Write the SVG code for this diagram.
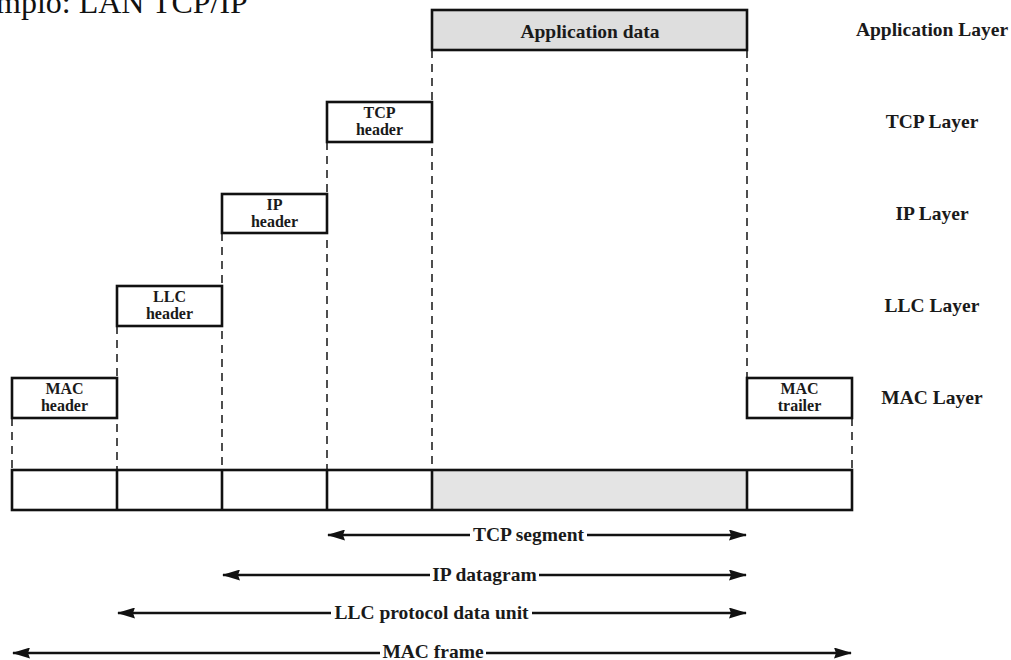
<svg xmlns="http://www.w3.org/2000/svg" width="1011" height="660" viewBox="0 0 1011 660">
<style>
.box{fill:#fff;stroke:#111;stroke-width:2.6}
.gray{fill:#dedede}
.dash{stroke:#222;stroke-width:1.6;stroke-dasharray:8,6;fill:none}
.lbl{font-family:"Liberation Serif","Times New Roman",serif;font-weight:bold;fill:#1a1a1a;text-anchor:middle}
.hdr{font-size:16px}
.big{font-size:19.5px}
.arr{stroke:#111;stroke-width:2.5;fill:none}
.head{fill:#111}
</style>
<defs>
<marker id="ah" viewBox="0 0 18 11" refX="17" refY="5.5" markerWidth="18" markerHeight="11" markerUnits="userSpaceOnUse" orient="auto-start-reverse">
<path d="M0,0 L18,5.5 L0,11 L2,5.5 Z" class="head"/>
</marker>
</defs>
<rect width="1011" height="660" fill="#fff"/>
<text x="-4" y="13" font-family="Liberation Serif,'Times New Roman',serif" font-size="32" fill="#111">mplo: LAN TCP/IP</text>

<g id="connectors">
<path class="dash" d="M432,50 V470 M747,50 V378 M327,142 V470 M222,233 V470 M117,326 V470 M12,418 V470 M852,418 V470"/>
<path class="arr" d="M328,535 H470" marker-start="url(#ah)"/>
<path class="arr" d="M587,535 H746" marker-end="url(#ah)"/>
<path class="arr" d="M223,575 H430" marker-start="url(#ah)"/>
<path class="arr" d="M539,575 H746" marker-end="url(#ah)"/>
<path class="arr" d="M118,613 H331" marker-start="url(#ah)"/>
<path class="arr" d="M532,613 H746" marker-end="url(#ah)"/>
<path class="arr" d="M13,653 H380" marker-start="url(#ah)"/>
<path class="arr" d="M486,653 H851" marker-end="url(#ah)"/>
</g>

<g id="app-data">
<rect class="box gray" x="432" y="10" width="315" height="40"/>
<text class="lbl big" x="590" y="38">Application data</text>
</g>
<g id="tcp-header">
<rect class="box" x="327" y="102" width="105" height="40"/>
<text class="lbl hdr" x="379.5" y="117.5">TCP</text>
<text class="lbl hdr" x="379.5" y="134.5">header</text>
</g>
<g id="ip-header">
<rect class="box" x="222" y="194" width="105" height="39"/>
<text class="lbl hdr" x="274.5" y="209.5">IP</text>
<text class="lbl hdr" x="274.5" y="226.5">header</text>
</g>
<g id="llc-header">
<rect class="box" x="117" y="286" width="105" height="40"/>
<text class="lbl hdr" x="169.5" y="301.5">LLC</text>
<text class="lbl hdr" x="169.5" y="318.5">header</text>
</g>
<g id="mac-header">
<rect class="box" x="12" y="378" width="105" height="40"/>
<text class="lbl hdr" x="64.5" y="393.5">MAC</text>
<text class="lbl hdr" x="64.5" y="410.5">header</text>
</g>
<g id="mac-trailer">
<rect class="box" x="747" y="378" width="105" height="40"/>
<text class="lbl hdr" x="799.5" y="393.5">MAC</text>
<text class="lbl hdr" x="799.5" y="410.5">trailer</text>
</g>

<g id="frame">
<rect x="432" y="470" width="315" height="40" fill="#e4e4e4"/>
<rect x="12" y="470" width="840" height="40" fill="none" stroke="#111" stroke-width="2.6"/>
<path d="M117,470 V510 M222,470 V510 M327,470 V510 M432,470 V510 M747,470 V510" stroke="#111" stroke-width="2.6"/>
</g>

<g id="layer-labels">
<text class="lbl big" x="932" y="36">Application Layer</text>
<text class="lbl big" x="932" y="128">TCP Layer</text>
<text class="lbl big" x="932" y="220">IP Layer</text>
<text class="lbl big" x="932" y="312">LLC Layer</text>
<text class="lbl big" x="932" y="404">MAC Layer</text>
</g>

<g id="span-labels">
<text class="lbl big" x="528.5" y="541">TCP segment</text>
<text class="lbl big" x="484.5" y="581">IP datagram</text>
<text class="lbl big" x="431.5" y="619">LLC protocol data unit</text>
<text class="lbl big" x="433" y="658">MAC frame</text>
</g>
</svg>
